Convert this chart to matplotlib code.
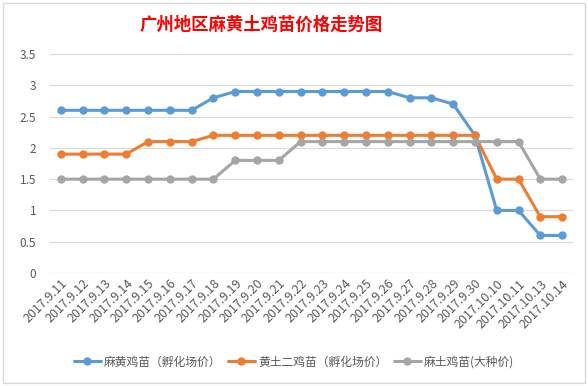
import matplotlib.pyplot as plt
from matplotlib.patches import Rectangle

plt.rcParams['font.family'] = ['Noto Sans CJK SC', 'DejaVu Sans']

# Chart data.
dates = ['2017.9.11', '2017.9.12', '2017.9.13', '2017.9.14', '2017.9.15',
         '2017.9.16', '2017.9.17', '2017.9.18', '2017.9.19', '2017.9.20',
         '2017.9.21', '2017.9.22', '2017.9.23', '2017.9.24', '2017.9.25',
         '2017.9.26', '2017.9.27', '2017.9.28', '2017.9.29', '2017.9.30',
         '2017.10.10', '2017.10.11', '2017.10.13', '2017.10.14']
mahuang = [2.6, 2.6, 2.6, 2.6, 2.6, 2.6, 2.6, 2.8, 2.9, 2.9, 2.9, 2.9,
           2.9, 2.9, 2.9, 2.9, 2.8, 2.8, 2.7, 2.2, 1.0, 1.0, 0.6, 0.6]
huangtu = [1.9, 1.9, 1.9, 1.9, 2.1, 2.1, 2.1, 2.2, 2.2, 2.2, 2.2, 2.2,
           2.2, 2.2, 2.2, 2.2, 2.2, 2.2, 2.2, 2.2, 1.5, 1.5, 0.9, 0.9]
matu = [1.5, 1.5, 1.5, 1.5, 1.5, 1.5, 1.5, 1.5, 1.8, 1.8, 1.8, 2.1,
        2.1, 2.1, 2.1, 2.1, 2.1, 2.1, 2.1, 2.1, 2.1, 2.1, 1.5, 1.5]
names = ['麻黄鸡苗（孵化场价）', '黄土二鸡苗（孵化场价）', '麻土鸡苗(大种价)']
colors = ['#5B9BD5', '#ED7D31', '#A5A5A5']

fig = plt.figure(figsize=(5.88, 3.86), dpi=100)
ax = fig.add_axes([50 / 588, 1 - 273 / 386, 523 / 588, 219 / 386])

x = range(len(dates))
for vals, name, c in zip([mahuang, huangtu, matu], names, colors):
    ax.plot(x, vals, color=c, lw=2.2, marker='o', ms=5, label=name,
            solid_capstyle='round')

ax.set_xlim(-0.5, len(dates) - 0.5)
ax.set_ylim(0, 3.5)
ax.set_yticks([0, 0.5, 1, 1.5, 2, 2.5, 3, 3.5])
ax.set_yticklabels(['0', '0.5', '1', '1.5', '2', '2.5', '3', '3.5'])
ax.set_xticks(list(x))
ax.set_xticklabels(dates, rotation=45, ha='right', rotation_mode='anchor')
ax.tick_params(axis='both', length=0, colors='#595959')
ax.tick_params(axis='y', pad=10, labelsize=8.5)
ax.tick_params(axis='x', pad=3, labelsize=9)
for lab in ax.get_xticklabels():
    lab.set_x(lab.get_position()[0])
ax.grid(axis='y', color='#D9D9D9', lw=0.9)
ax.set_axisbelow(True)
for s in ax.spines.values():
    s.set_visible(False)

fig.text(261 / 588, 1 - 25 / 386, '广州地区麻黄土鸡苗价格走势图', color='#FF0000',
         fontsize=12.5, fontweight='bold', ha='center', va='center')

fig.legend(loc='center', bbox_to_anchor=(294 / 588, 1 - 362 / 386), ncol=3,
           frameon=False, fontsize=8.5, handlelength=2.3, columnspacing=0.5,
           handletextpad=0.3, labelcolor='#595959')

fig.patches.append(Rectangle((3 / 588, 3 / 386), 582 / 588, 380 / 386,
                             transform=fig.transFigure, fill=False,
                             edgecolor='#D9D9D9', lw=1))

fig.savefig('out.png', dpi=100)
